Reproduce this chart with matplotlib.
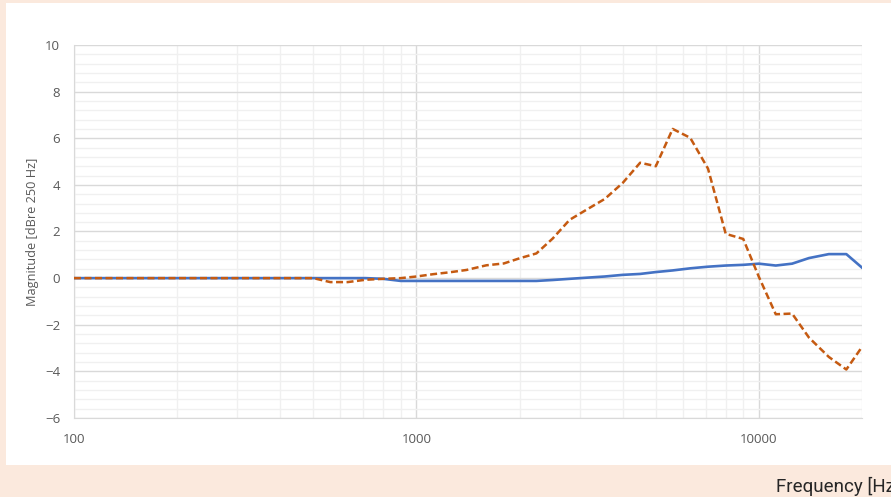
import numpy as np
import matplotlib.pyplot as plt
from matplotlib.patches import Rectangle
from matplotlib.ticker import FixedLocator, NullFormatter

# 1/6-octave centre frequencies, Hz
freq = [100, 112, 125, 140, 160, 180, 200, 224, 250, 280, 315, 355, 400, 450,
        500, 560, 630, 710, 800, 900, 1000, 1120, 1250, 1400, 1600, 1800, 2000,
        2240, 2500, 2800, 3150, 3550, 4000, 4500, 5000, 5600, 6300, 7100, 8000,
        9000, 10000, 11200, 12500, 14000, 16000, 18000, 20000]

# solid blue series, dB re 250 Hz
blue_db = [0, 0, 0, 0, 0, 0, 0, 0, 0, 0, 0, 0, 0, 0, 0, 0, 0, 0,
           -0.03, -0.12, -0.12, -0.12, -0.12, -0.12, -0.12, -0.12, -0.12,
           -0.12, -0.08, -0.03, 0.02, 0.07, 0.14, 0.18, 0.26, 0.33, 0.42,
           0.49, 0.54, 0.57, 0.62, 0.54, 0.62, 0.86, 1.03, 1.03, 0.45]

# dashed orange series, dB re 250 Hz
orange_db = [0, 0, 0, 0, 0, 0, 0, 0, 0, 0, 0, 0, 0, 0,
             0.0, -0.17, -0.17, -0.07, -0.03, 0.0, 0.07, 0.17, 0.25, 0.35,
             0.55, 0.63, 0.85, 1.06, 1.7, 2.5, 2.95, 3.4, 4.08, 4.95, 4.8,
             6.4, 6.02, 4.7, 1.9, 1.68, 0.05, -1.55, -1.52, -2.55, -3.38,
             -3.92, -2.95]

yticks = [-6, -4, -2, 0, 2, 4, 6, 8, 10]
xticks = [100, 1000, 10000]
xtick_labels = ['100', '1000', '10000']

peach = '#fbe9dd'
grey_txt = '#595959'

fig = plt.figure(figsize=(8.91, 4.97), dpi=100, facecolor=peach)
fig.patches.append(Rectangle((6/891, 1-465/497), 885/891, 462/497,
                             transform=fig.transFigure, facecolor='white',
                             edgecolor='none', zorder=-5))

ax = fig.add_axes([74/891, 1-418/497, 788/891, 373/497])
ax.set_facecolor('white')

ax.plot(freq, blue_db, color='#4472c4', lw=1.9, zorder=3,
        solid_joinstyle='round')
ax.plot(freq, orange_db, color='#c55a11', lw=1.8, zorder=4,
        dashes=(2.8, 1.4))

ax.set_xscale('log')
ax.set_xlim(100, 20000)
ax.set_ylim(-6, 10)

ax.xaxis.set_major_locator(FixedLocator(xticks))
ax.set_xticklabels(xtick_labels)
minors = [m*d for d in (100, 1000, 10000) for m in range(2, 10) if m*d <= 20000]
ax.xaxis.set_minor_locator(FixedLocator(minors))
ax.xaxis.set_minor_formatter(NullFormatter())
ax.set_yticks(yticks)
ax.yaxis.set_minor_locator(FixedLocator(np.arange(-6, 10.01, 0.4)))

ax.grid(which='major', color='#d9d9d9', lw=1.0, zorder=1)
ax.grid(which='minor', color='#f0f0f0', lw=1.0, zorder=1)
ax.set_axisbelow(True)

for s in ['top', 'right']:
    ax.spines[s].set_visible(False)
ax.spines['left'].set_color('#d9d9d9')
ax.spines['bottom'].set_color('#d9d9d9')

ax.tick_params(which='both', length=0)
ax.tick_params(axis='y', pad=10, labelsize=9.5, labelcolor=grey_txt)
ax.tick_params(axis='x', pad=11, labelsize=9.5, labelcolor=grey_txt)
for lab in ax.get_xticklabels() + ax.get_yticklabels():
    lab.set_family('Open Sans')

ax.set_ylabel('Magnitude [dBre 250 Hz]', fontsize=9.2, color=grey_txt,
              family='Open Sans', labelpad=4)

# axis title sits in the peach margin, running off the right edge as in the source
fig.text(776/891, 1-486/497, 'Frequency [Hz]', fontsize=13.5, color='#262626',
         family='Roboto', ha='left', va='center')

plt.savefig('out.png', dpi=100, facecolor=peach)
